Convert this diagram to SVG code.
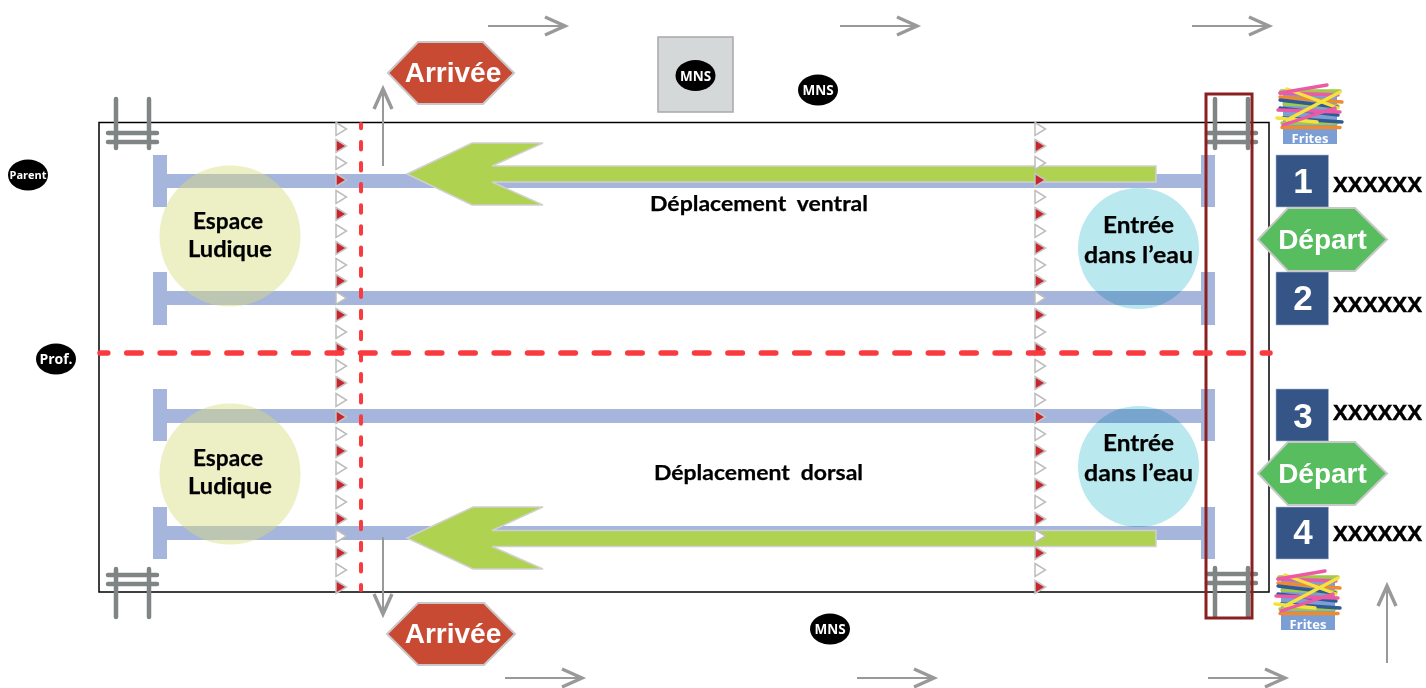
<svg xmlns="http://www.w3.org/2000/svg" width="1426" height="688" viewBox="0 0 1426 688">
<style>
.lane{fill:#a6b5dc}
.yc{fill:#d8dc7f;fill-opacity:.45}
.bc{fill:#b9e9ef;mix-blend-mode:multiply}
.lbl{font-family:Lato,"Open Sans",sans-serif;font-weight:700;fill:#000;text-anchor:middle;stroke:#000;stroke-width:.25}
.big{font-size:23px}
.dep{font-size:21px}
.ar{font-family:"Liberation Sans",Arial,sans-serif;font-weight:700;fill:#fff;text-anchor:middle;font-size:28px}
.num{font-family:"Liberation Sans",Arial,sans-serif;font-weight:700;fill:#fff;text-anchor:middle;font-size:35px}
.xx{font-family:"Liberation Sans",Arial,sans-serif;font-weight:700;fill:#000;font-size:22px;stroke:#000;stroke-width:.5}
.pers{font-family:"Open Sans","Noto Sans",sans-serif;font-weight:700;fill:#fff;text-anchor:middle}
.sq{fill:#345586;stroke:#a9b9d4;stroke-width:.6}
.hexr{fill:#c94a33;stroke:#c8c8c8;stroke-width:2}
.hexg{fill:#58bd5e;stroke:#c8c8c8;stroke-width:2}
.green{fill:#b0d251;stroke:#d0d0d0;stroke-width:1.5}
.tw{fill:#fff;stroke:#bdbdbd;stroke-width:1.5}
.tr{fill:#c9252c;stroke:#c4c4c4;stroke-width:1.5}
.lad{stroke:#7f8585;stroke-width:4.5;stroke-linecap:round;fill:none}
.arl{stroke:#999;stroke-width:2;fill:none}
.arh{stroke:#999;stroke-width:3.4;fill:none}
.st{stroke-width:3.4;stroke-linecap:round;fill:none}
.red{stroke:#f93a3f;fill:none;stroke-linecap:round}
</style>
<defs>
<g id="arrow"><path class="arl" d="M0 0H76"/><path class="arh" d="M57 -9L77 0L57 9"/></g>
<path id="t0" class="tw" d="M336 -6.500L346.500 0L336 6.500Z"/>
<path id="t1" class="tr" d="M336 -6.500L346.500 0L336 6.500Z"/>
<g id="ladder"><path class="lad" d="M0 0V49M33 0V49"/><path class="lad" d="M-8 34H41M-8 43H41"/></g>
<g id="ladderB"><path class="lad" d="M0 0V48M33 0V48"/><path class="lad" d="M-8 6H41M-8 15H41"/></g>
<g id="frites">
<rect x="1283" y="92" width="54" height="52" fill="#7b9fd4"/>
<path class="st" stroke="#a3c94a" d="M1281 91L1340 91M1282 123L1337 123M1284 104L1338 106"/>
<path class="st" stroke="#f08a2e" d="M1280 97L1342 102M1282 127.500L1340 127.500"/>
<path class="st" stroke="#2f5a94" d="M1280 100L1337 107M1280 108L1338 115M1283 118L1342 122"/>
<path class="st" stroke="#ec5aa5" d="M1280 93L1338 95M1278 110L1340 112"/>
<path class="st" stroke="#f5e23d" d="M1287 89L1338 108M1340 92L1287 120M1277 118L1317 122"/>
<path class="st" stroke="#ec5aa5" d="M1280 93L1327 85M1283 125L1335 108"/>
<text x="1310" y="142.500" text-anchor="middle" font-family="'Open Sans','Noto Sans',sans-serif" font-weight="700" font-size="13px" fill="#fff">Frites</text>
</g>
</defs>

<g id="pool"><rect x="99" y="122.500" width="1170" height="469.500" fill="#fff" stroke="#000" stroke-width="1.500"/></g>

<g id="lanes">
<path class="lane" d="M153 155H167V174H1201V155H1215V207H1201V188H167V207H153Z"/>
<path class="lane" d="M153 272H167V291H1201V272H1215V325H1201V305H167V325H153Z"/>
<path class="lane" d="M153 389H167V409H1201V389H1215V441H1201V423H167V441H153Z"/>
<path class="lane" d="M153 507H167V526H1201V507H1215V559H1201V540H167V559H153Z"/>
</g>

<g id="ladder-tl"><use href="#ladder" x="116" y="99"/></g>
<g id="ladder-tr"><use href="#ladder" x="1215" y="99"/></g>
<g id="ladder-bl"><use href="#ladderB" x="116" y="569"/></g>
<g id="ladder-br"><use href="#ladderB" x="1215" y="568"/></g>

<g id="espace-top"><circle class="yc" cx="230" cy="236" r="70.500"/><text class="lbl big" x="228" y="229" textLength="70" lengthAdjust="spacingAndGlyphs">Espace</text><text class="lbl big" x="230" y="257" textLength="84" lengthAdjust="spacingAndGlyphs">Ludique</text></g>
<g id="espace-bottom"><circle class="yc" cx="230" cy="474" r="70.500"/><text class="lbl big" x="228" y="466" textLength="70" lengthAdjust="spacingAndGlyphs">Espace</text><text class="lbl big" x="230" y="494" textLength="84" lengthAdjust="spacingAndGlyphs">Ludique</text></g>
<g id="entree-top"><circle class="bc" cx="1138.500" cy="248.500" r="60.500"/><text class="lbl big" x="1138.500" y="233" textLength="71" lengthAdjust="spacingAndGlyphs">Entrée</text><text class="lbl big" x="1138.500" y="263" textLength="109" lengthAdjust="spacingAndGlyphs">dans l’eau</text></g>
<g id="entree-bottom"><circle class="bc" cx="1138.500" cy="466.500" r="60.500"/><text class="lbl big" x="1138.500" y="451" textLength="71" lengthAdjust="spacingAndGlyphs">Entrée</text><text class="lbl big" x="1138.500" y="481" textLength="109" lengthAdjust="spacingAndGlyphs">dans l’eau</text></g>

<g id="arrow-ventral"><path class="green" d="M407 174L472 143H543L492 166H1156V182H492L543 205H472Z"/></g>
<g id="arrow-dorsal"><path class="green" d="M407 538L473 507H543L492 530.500H1156V546.500H492L543 569H473Z"/></g>

<g id="label-ventral"><text class="lbl dep" x="759" y="211" word-spacing="5" textLength="218" lengthAdjust="spacingAndGlyphs">Déplacement ventral</text></g>
<g id="label-dorsal"><text class="lbl dep" x="758.500" y="480" word-spacing="5" textLength="209" lengthAdjust="spacingAndGlyphs">Déplacement dorsal</text></g>

<g id="markers-left">
<use href="#t0" y="129"/><use href="#t1" y="146"/><use href="#t0" y="163"/><use href="#t1" y="180"/><use href="#t0" y="197"/><use href="#t1" y="214"/><use href="#t0" y="231"/><use href="#t1" y="248"/><use href="#t0" y="265"/><use href="#t1" y="281"/><use href="#t0" y="298"/><use href="#t1" y="315"/><use href="#t0" y="332"/><use href="#t1" y="349"/><use href="#t0" y="366"/><use href="#t1" y="383"/><use href="#t0" y="400"/><use href="#t1" y="417"/><use href="#t0" y="434"/><use href="#t1" y="451"/><use href="#t0" y="468"/><use href="#t1" y="485"/><use href="#t0" y="502"/><use href="#t1" y="519"/><use href="#t0" y="536"/><use href="#t1" y="553"/><use href="#t0" y="570"/><use href="#t1" y="587"/>
</g>
<g id="markers-right" transform="translate(699 0)">
<use href="#t0" y="129"/><use href="#t1" y="146"/><use href="#t0" y="163"/><use href="#t1" y="180"/><use href="#t0" y="197"/><use href="#t1" y="214"/><use href="#t0" y="231"/><use href="#t1" y="248"/><use href="#t0" y="265"/><use href="#t1" y="281"/><use href="#t0" y="298"/><use href="#t1" y="315"/><use href="#t0" y="332"/><use href="#t1" y="349"/><use href="#t0" y="366"/><use href="#t1" y="383"/><use href="#t0" y="400"/><use href="#t1" y="417"/><use href="#t0" y="434"/><use href="#t1" y="451"/><use href="#t0" y="468"/><use href="#t1" y="485"/><use href="#t0" y="502"/><use href="#t1" y="519"/><use href="#t0" y="536"/><use href="#t1" y="553"/><use href="#t0" y="570"/><use href="#t1" y="587"/>
</g>

<g id="dark-red-zone"><rect x="1206" y="94" width="46" height="524" fill="none" stroke="#8b2020" stroke-width="3"/></g>

<g id="connectors">
<path class="red" stroke-width="4" stroke-dasharray="7.500 13.600" stroke-dashoffset="3.200" d="M361 124V590"/>
<path class="red" stroke-width="5.500" stroke-dasharray="14.500 18.900" stroke-dashoffset="6.700" d="M100 353H1270"/>
<use href="#arrow" transform="translate(488 26)"/>
<use href="#arrow" transform="translate(840 26)"/>
<use href="#arrow" transform="translate(1192 26)"/>
<use href="#arrow" transform="translate(505 678)"/>
<use href="#arrow" transform="translate(857 678)"/>
<use href="#arrow" transform="translate(1208 678)"/>
<use href="#arrow" transform="translate(1387 663) rotate(-90)"/>
<use href="#arrow" transform="translate(383 166) rotate(-90)"/>
<use href="#arrow" transform="translate(383 537) rotate(90)"/>
</g>

<g id="arrivee-top"><path class="hexr" d="M388 73L418 42H483L514 73L483 104H418Z"/><text class="ar" x="453" y="82">Arrivée</text></g>
<g id="arrivee-bottom"><path class="hexr" d="M387 634L418 603H484L515 634L484 665H418Z"/><text class="ar" x="453" y="643">Arrivée</text></g>

<g id="mns-post"><rect x="658" y="37" width="75" height="75" fill="#d5d8d9" stroke="#a8a8a8" stroke-width="1.500"/><ellipse cx="695.500" cy="75.500" rx="20" ry="15.500"/><text class="pers" font-size="13.500" x="695.500" y="80.500">MNS</text></g>
<g id="mns-top"><ellipse cx="818" cy="90" rx="20" ry="15.500"/><text class="pers" font-size="13.500" x="818" y="95">MNS</text></g>
<g id="mns-bottom"><ellipse cx="830" cy="629" rx="20" ry="15.500"/><text class="pers" font-size="13.500" x="830" y="634">MNS</text></g>
<g id="parent"><ellipse cx="28" cy="175" rx="20" ry="15.500"/><text class="pers" font-size="11" x="28" y="179">Parent</text></g>
<g id="prof"><ellipse cx="56" cy="359" rx="20" ry="15.500"/><text class="pers" font-size="14" x="56" y="364">Prof.</text></g>

<g id="frites-top"><use href="#frites"/></g>
<g id="frites-bottom"><use href="#frites" x="-2" y="486"/></g>

<g id="lane-1"><rect class="sq" x="1276" y="155" width="52.500" height="52"/><text class="num" x="1303" y="193">1</text><text class="xx" x="1333" y="192" textLength="89" lengthAdjust="spacingAndGlyphs">XXXXXX</text></g>
<g id="lane-2"><rect class="sq" x="1276" y="272" width="52.500" height="53"/><text class="num" x="1303" y="310">2</text><text class="xx" x="1333" y="312" textLength="89" lengthAdjust="spacingAndGlyphs">XXXXXX</text></g>
<g id="lane-3"><rect class="sq" x="1276" y="389" width="52.500" height="52"/><text class="num" x="1303" y="428">3</text><text class="xx" x="1333" y="420" textLength="89" lengthAdjust="spacingAndGlyphs">XXXXXX</text></g>
<g id="lane-4"><rect class="sq" x="1276" y="507" width="52.500" height="52"/><text class="num" x="1303" y="544">4</text><text class="xx" x="1333" y="541" textLength="89" lengthAdjust="spacingAndGlyphs">XXXXXX</text></g>

<g id="depart-top"><path class="hexg" d="M1258 239.500L1288 208H1355L1387 239.500L1355 271H1288Z"/><text class="ar" x="1322.500" y="249">Départ</text></g>
<g id="depart-bottom"><path class="hexg" d="M1258 473.500L1288 442H1355L1387 473.500L1355 505H1288Z"/><text class="ar" x="1322.500" y="483">Départ</text></g>
</svg>
